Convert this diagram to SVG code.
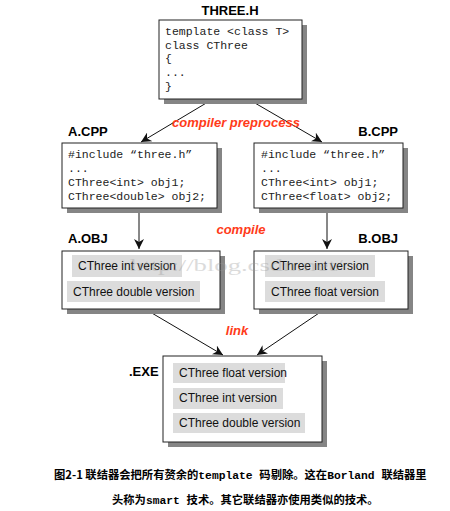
<svg xmlns="http://www.w3.org/2000/svg" width="450" height="511" viewBox="0 0 450 511">
<style>
.title{font-family:"Liberation Sans",Arial,sans-serif;font-weight:bold;font-size:13px;fill:#000}
.code{font-family:"Liberation Mono","Courier New",monospace;font-size:11.5px;fill:#222}
.box{fill:#fff;stroke:#222;stroke-width:1}
.shadow{fill:#858585}
.chip{fill:#dcdcdc}
.ver{font-family:"Liberation Sans",Arial,sans-serif;font-size:12px;fill:#111}
.lbl{font-family:"Liberation Sans",Arial,sans-serif;font-weight:bold;font-style:italic;font-size:13px;fill:#ff3b1a}
.conn{stroke:#111;stroke-width:1;fill:none}
.cap{font-family:"Noto Sans CJK SC",sans-serif;font-weight:bold;font-size:11.3px;fill:#000}
.capm{font-family:"Liberation Mono",monospace;font-weight:bold}
</style>
<defs>
<marker id="arr" viewBox="0 0 10 10" refX="10" refY="5" markerWidth="10" markerHeight="10" markerUnits="userSpaceOnUse" orient="auto">
<path d="M0,0 L10,5 L0,10 L3,5 z" fill="#111"/>
</marker>
</defs>

<g id="connectors">
<line class="conn" x1="213" y1="99" x2="141" y2="142" marker-end="url(#arr)"/>
<line class="conn" x1="248" y1="99" x2="322" y2="142" marker-end="url(#arr)"/>
<line class="conn" x1="139" y1="208" x2="139" y2="249" marker-end="url(#arr)"/>
<line class="conn" x1="327" y1="208" x2="327" y2="249" marker-end="url(#arr)"/>
<line class="conn" x1="145" y1="309" x2="223" y2="355" marker-end="url(#arr)"/>
<line class="conn" x1="325" y1="309" x2="257" y2="355" marker-end="url(#arr)"/>
<text class="lbl" x="236" y="127" text-anchor="middle">compiler preprocess</text>
<text class="lbl" x="241" y="234" text-anchor="middle">compile</text>
<text class="lbl" x="237" y="335" text-anchor="middle">link</text>
</g>

<g id="three_h">
<text class="title" x="230" y="15" text-anchor="middle">THREE.H</text>
<rect class="shadow" x="164" y="25" width="143" height="79"/>
<rect class="box" x="159" y="20" width="143" height="79"/>
<text class="code" x="165" y="35">template &lt;class T&gt;</text>
<text class="code" x="165" y="49">class CThree</text>
<text class="code" x="165" y="62">{</text>
<text class="code" x="165" y="76">...</text>
<text class="code" x="165" y="90">}</text>
</g>

<g id="a_cpp">
<text class="title" x="68" y="136">A.CPP</text>
<rect class="shadow" x="67" y="148" width="155" height="65"/>
<rect class="box" x="62" y="143" width="155" height="65"/>
<text class="code" x="68" y="158">#include “three.h”</text>
<text class="code" x="68" y="172">...</text>
<text class="code" x="68" y="186">CThree&lt;int&gt; obj1;</text>
<text class="code" x="68" y="200">CThree&lt;double&gt; obj2;</text>
</g>

<g id="b_cpp">
<text class="title" x="398" y="136" text-anchor="end">B.CPP</text>
<rect class="shadow" x="259" y="148" width="149" height="65"/>
<rect class="box" x="254" y="143" width="149" height="65"/>
<text class="code" x="261" y="158">#include “three.h”</text>
<text class="code" x="261" y="172">...</text>
<text class="code" x="261" y="186">CThree&lt;int&gt; obj1;</text>
<text class="code" x="261" y="200">CThree&lt;float&gt; obj2;</text>
</g>

<g id="a_obj">
<text class="title" x="68" y="243">A.OBJ</text>
<rect class="shadow" x="67" y="256" width="158" height="58"/>
<rect class="box" x="62" y="251" width="158" height="58"/>
<rect class="chip" x="72" y="255" width="110" height="22"/>
<text class="ver" x="78" y="270">CThree int version</text>
<rect class="chip" x="67" y="281" width="133" height="21"/>
<text class="ver" x="73" y="296">CThree double version</text>
</g>

<g id="b_obj">
<text class="title" x="398" y="243" text-anchor="end">B.OBJ</text>
<rect class="shadow" x="259" y="256" width="154" height="58"/>
<rect class="box" x="254" y="251" width="154" height="58"/>
<rect class="chip" x="265" y="255" width="110" height="22"/>
<text class="ver" x="271" y="270">CThree int version</text>
<rect class="chip" x="265" y="281" width="120" height="21"/>
<text class="ver" x="271" y="296">CThree float version</text>
</g>

<g id="exe">
<text class="title" x="129" y="376">.EXE</text>
<rect class="shadow" x="168" y="361" width="159" height="86"/>
<rect class="box" x="163" y="356" width="159" height="86"/>
<rect class="chip" x="173" y="363" width="112" height="20"/>
<text class="ver" x="179" y="377">CThree float version</text>
<rect class="chip" x="173" y="388" width="110" height="21"/>
<text class="ver" x="179" y="402">CThree int version</text>
<rect class="chip" x="173" y="413" width="132" height="20"/>
<text class="ver" x="179" y="427">CThree double version</text>
</g>

<text x="130" y="271" font-family="Liberation Serif,serif" font-size="17" fill="#999" opacity="0.35" textLength="213" lengthAdjust="spacingAndGlyphs">http://blog.csdn.net/</text>

<g id="caption">
<text class="cap" x="54" y="479">图2-1 联结器会把所有赘余的<tspan class="capm">template </tspan>码剔除。这在<tspan class="capm">Borland </tspan>联结器里</text>
<text class="cap" x="112" y="504">头称为<tspan class="capm">smart </tspan>技术。其它联结器亦使用类似的技术。</text>
</g>
</svg>
